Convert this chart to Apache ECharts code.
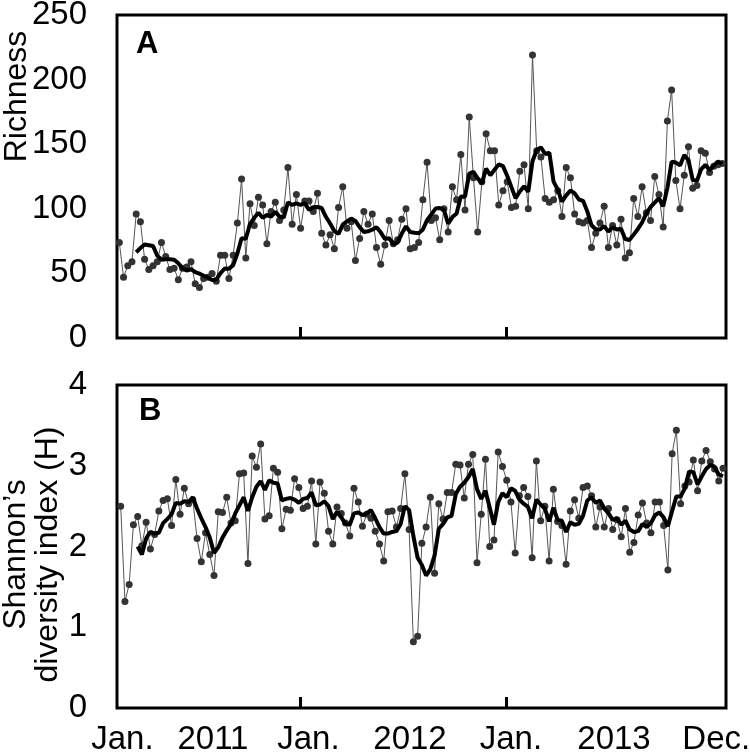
<!DOCTYPE html>
<html>
<head>
<meta charset="utf-8">
<script src="https://cdn.jsdelivr.net/npm/echarts@6/dist/echarts.min.js"></script>
<style>
html,body{margin:0;padding:0;background:#fff;}
#chart{width:750px;height:753px;}
</style>
</head>
<body>
<div id="chart"></div>
<script>
// ---------- DATA ----------
// Richness, one value per sample
const richness = [74,47,56,59,96,90,61,53,56,59,74,63,53,54,45,54,55,59,42,39,
  46,47,50,44,64,64,46,64,89,123,62,104,87,109,103,73,98,105,91,99,
  132,88,111,85,106,106,98,112,81,72,80,69,101,117,85,90,60,77,98,88,
  96,70,57,72,91,73,76,92,100,69,70,74,107,136,91,93,76,100,82,117,
  107,142,99,171,124,82,121,158,145,145,103,114,121,101,102,129,134,100,219,145,
  140,108,105,107,114,94,132,124,96,90,89,91,70,81,89,102,70,87,72,92,
  62,66,108,94,117,97,91,125,111,86,168,192,122,100,126,148,116,118,145,143,
  128,133,134,135];
// Richness running mean (thick line), from the 5th sample on
const richnessMean = [66.4,69.6,72.4,71.8,71.2,63.8,60.6,61,61,60.6,57.8,53.8,52.2,53.4,51,49.8,
  48.2,46.6,44.8,45.2,50.2,53.8,53.6,56.4,65.4,77.2,76.8,88.4,93,97,93,95.2,94,97.6,94,93.2,
  105,103,104.2,103,104.4,99.2,101.2,101.4,100.6,93.8,88.6,82.8,80.6,87.8,90.4,92.4,90.6,85.8,82,82.6,
  83.8,85.8,81.8,76.6,77.2,72.6,73.8,80.8,86.4,82,81.4,81,84,91.2,95.6,100.2,100.6,99.2,88.4,93.6,
  96.4,109.6,109.4,127.2,128.6,123.6,119.4,131.2,126,130.2,134.4,133,125.6,116.8,108.2,113.4,117.4,113.2,136.8,145.4,
  147.6,142.4,143.4,121,114.8,105.6,110.4,114.2,112,107.2,106.2,98,87.2,84.2,84,86.6,82.4,85.8,84,84.6,
  76.6,75.8,80,84.4,89.4,96.4,101.4,104.8,108.2,102,116.2,136.4,135.8,133.6,141.6,137.6,122.4,121.6,130.6,134,
  130,133.4,136.6,134.6];
// Shannon's diversity index, one value per sample
const shannon = [2.50,1.32,1.53,2.27,2.37,2.01,2.30,1.97,2.15,2.44,2.57,2.59,2.26,2.83,2.40,2.72,2.53,2.58,2.10,1.81,
  2.17,1.90,1.64,2.43,2.42,2.61,2.29,2.32,2.90,2.91,1.79,3.12,2.98,3.27,2.34,2.38,2.97,2.92,2.22,2.46,
  2.45,2.84,2.73,2.47,2.50,2.81,2.03,2.80,2.66,2.19,2.03,2.49,2.41,2.29,2.13,2.72,2.55,2.25,2.40,2.35,
  2.19,2.03,1.82,2.43,2.44,2.24,2.47,2.90,2.21,0.82,0.89,2.04,2.24,2.61,1.67,2.53,2.34,2.67,2.67,3.02,
  3.01,2.60,3.02,3.14,1.80,2.40,3.08,2.00,2.08,3.17,2.99,2.82,2.55,1.92,2.63,2.73,2.62,1.86,3.06,2.32,
  2.50,1.82,2.71,2.31,2.26,1.78,2.44,2.58,2.35,2.73,2.75,2.63,2.24,2.49,2.24,2.47,2.21,2.33,2.12,2.47,
  1.93,2.05,2.39,2.54,2.29,2.17,2.55,2.55,2.26,1.71,3.15,3.44,2.53,2.75,2.80,3.07,2.69,3.06,3.19,3.05,
  2.96,2.81,2.97];
// Shannon running mean (thick line), from the 5th sample on
const shannonMean = [2.00,1.90,2.10,2.18,2.16,2.17,2.29,2.34,2.40,2.54,
  2.53,2.56,2.55,2.61,2.47,2.35,2.24,2.11,1.92,1.99,
  2.11,2.20,2.28,2.41,2.51,2.61,2.44,2.61,2.74,2.81,
  2.70,2.82,2.79,2.78,2.57,2.59,2.60,2.58,2.54,2.59,
  2.60,2.67,2.51,2.52,2.56,2.50,2.34,2.43,2.36,2.28,
  2.27,2.41,2.42,2.39,2.41,2.45,2.35,2.24,2.16,2.16,
  2.18,2.19,2.28,2.50,2.45,2.13,1.86,1.77,1.64,1.72,
  1.89,2.22,2.28,2.36,2.38,2.65,2.74,2.79,2.86,2.96,
  2.71,2.59,2.69,2.48,2.27,2.55,2.66,2.61,2.72,2.69,
  2.58,2.53,2.49,2.35,2.58,2.52,2.47,2.31,2.48,2.33,
  2.32,2.18,2.30,2.27,2.28,2.38,2.57,2.61,2.54,2.57,
  2.47,2.41,2.33,2.35,2.27,2.32,2.21,2.18,2.19,2.28,
  2.24,2.29,2.39,2.42,2.36,2.25,2.44,2.62,2.62,2.72,
  2.93,2.92,2.77,2.87,2.96,3.01,2.99,2.89,2.87];
const xTickLabels = ['Jan.', '2011', 'Jan.', '2012', 'Jan.', '2013', 'Dec.'];
const meanStart = 4;

// ---------- LAYOUT ----------
const FONT = '"Liberation Sans", Arial, sans-serif';
const xLabelAt = [0.4, 21.75, 44.26, 68.2, 92.0, 116.3, 140.4];
const topTickAt = [42.86, 91.84];
const botTickAt = [42.26, 90.9];

const chart = echarts.init(document.getElementById('chart'), null, {renderer: 'canvas'});

function gridBox(top) {
  return {left: 117, top: top, width: 609, height: 323, show: true,
    borderColor: '#000', borderWidth: 3, backgroundColor: 'transparent',
    containLabel: false, outerBoundsMode: 'none'};
}
function xAx(idx, min, max, ticks, withLabels) {
  return {
    type: 'value', gridIndex: idx, min: min, max: max,
    axisLine: {show: false}, splitLine: {show: false},
    axisTick: {show: true, inside: true, length: 11, customValues: ticks,
      lineStyle: {color: '#000', width: 3}},
    axisLabel: withLabels ? {
      show: true, customValues: xLabelAt, color: '#000', fontSize: 33, fontFamily: FONT, margin: 15,
      formatter: function (v) {
        let best = 0, bd = Infinity;
        xLabelAt.forEach(function (p, i) { const d = Math.abs(p - v); if (d < bd) { bd = d; best = i; } });
        return xTickLabels[best];
      }
    } : {show: false}
  };
}
function yAx(idx, max, interval, name, gap, pad) {
  return {
    type: 'value', gridIndex: idx, min: 0, max: max, interval: interval,
    axisLine: {show: false}, axisTick: {show: false}, splitLine: {show: false},
    axisLabel: {color: '#000', fontSize: 33, fontFamily: FONT, margin: 30},
    name: name, nameLocation: 'middle', nameGap: gap, nameRotate: 90, nameMoveOverlap: false,
    nameTextStyle: {color: '#000', fontSize: 32, fontFamily: FONT, lineHeight: 32, padding: pad}
  };
}
function rawSeries(idx, arr) {
  return {type: 'line', xAxisIndex: idx, yAxisIndex: idx, z: 2,
    data: arr.map(function (v, i) { return [i, v]; }),
    symbol: 'circle', symbolSize: 7, showSymbol: true,
    itemStyle: {color: '#333'}, lineStyle: {color: '#555', width: 1}};
}
function meanSeries(idx, arr) {
  return {type: 'line', xAxisIndex: idx, yAxisIndex: idx, z: 3,
    data: arr.map(function (v, i) { return [i + meanStart, v]; }),
    symbol: 'none', lineStyle: {color: '#000', width: 4}};
}

chart.setOption({
  animation: false,
  backgroundColor: '#fff',
  textStyle: {fontFamily: FONT},
  title: [
    {text: 'A', left: 136, top: 29, padding: 0, textStyle: {fontSize: 31, fontWeight: 'bold', color: '#000', fontFamily: FONT}},
    {text: 'B', left: 139, top: 396, padding: 0, textStyle: {fontSize: 31, fontWeight: 'bold', color: '#000', fontFamily: FONT}}
  ],
  grid: [gridBox(15), gridBox(385)],
  xAxis: [xAx(0, -0.55, 143.9, topTickAt, false), xAx(1, -0.87, 142.7, botTickAt, true)],
  yAxis: [yAx(0, 250, 50, 'Richness', 84, [0, 0, 0, 160]), yAx(1, 4, 1, 'Shannon\u2019s\ndiversity index (H)', 53, [0, 16, 0, 0])],
  series: [rawSeries(0, richness), meanSeries(0, richnessMean), rawSeries(1, shannon), meanSeries(1, shannonMean)]
});
</script>
</body>
</html>
